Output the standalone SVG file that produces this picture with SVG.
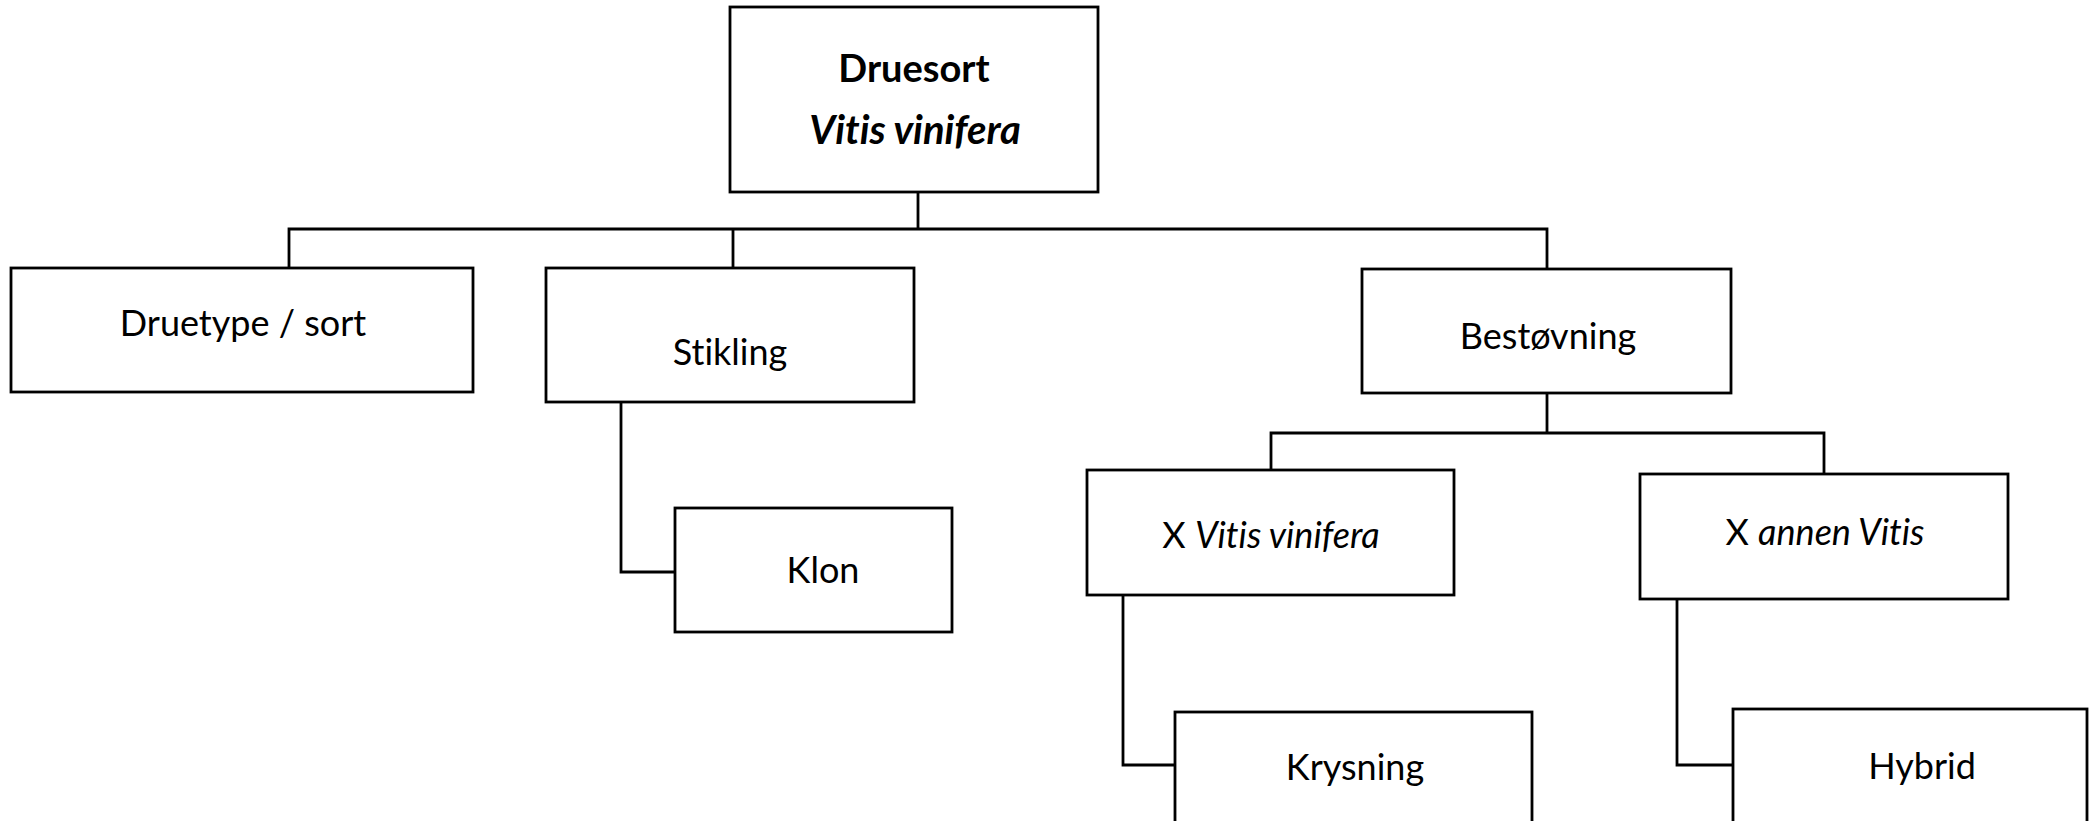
<svg xmlns="http://www.w3.org/2000/svg" width="2089" height="821" viewBox="0 0 2089 821">
<style>
.box{fill:#fff;stroke:#000;stroke-width:2.8}
.ln{fill:none;stroke:#000;stroke-width:2.8}
text{font-family:Lato,"Liberation Sans",sans-serif;font-size:36px;fill:#000;text-anchor:middle;font-variant-ligatures:none}
.b{font-weight:bold;font-size:38px}
.bi{font-weight:bold;font-style:italic;font-size:40px}
.i{font-style:italic}
</style>
<rect width="2089" height="821" fill="#fff"/>
<g id="connectors">
<polyline class="ln" points="918,192 918,229"/>
<polyline class="ln" points="289,268 289,229 1547,229 1547,269"/>
<polyline class="ln" points="733,229 733,268"/>
<polyline class="ln" points="621,402 621,572 675,572"/>
<polyline class="ln" points="1547,393 1547,433"/>
<polyline class="ln" points="1271,470 1271,433 1824,433 1824,474"/>
<polyline class="ln" points="1123,595 1123,765 1175,765"/>
<polyline class="ln" points="1677,599 1677,765 1733,765"/>
</g>
<g id="druesort">
<rect class="box" x="730" y="7" width="368" height="185"/>
<text class="b" x="914" y="82">Druesort</text>
<text class="bi" x="915" y="144">Vitis vinifera</text>
</g>
<g id="druetype">
<rect class="box" x="11" y="268" width="462" height="124"/>
<text x="243" y="336">Druetype / sort</text>
</g>
<g id="stikling">
<rect class="box" x="546" y="268" width="368" height="134"/>
<text x="730" y="365">Stikling</text>
</g>
<g id="bestovning">
<rect class="box" x="1362" y="269" width="369" height="124"/>
<text x="1548" y="349">Bestøvning</text>
</g>
<g id="klon">
<rect class="box" x="675" y="508" width="277" height="124"/>
<text x="823" y="583">Klon</text>
</g>
<g id="xvitis">
<rect class="box" x="1087" y="470" width="367" height="125"/>
<text x="1271" y="548">X <tspan class="i">Vitis vinifera</tspan></text>
</g>
<g id="xannen">
<rect class="box" x="1640" y="474" width="368" height="125"/>
<text x="1825" y="545">X <tspan class="i">annen Vitis</tspan></text>
</g>
<g id="krysning">
<rect class="box" x="1175" y="712" width="357" height="120"/>
<text x="1355" y="780">Krysning</text>
</g>
<g id="hybrid">
<rect class="box" x="1733" y="709" width="354" height="120"/>
<text x="1922" y="779">Hybrid</text>
</g>
</svg>
